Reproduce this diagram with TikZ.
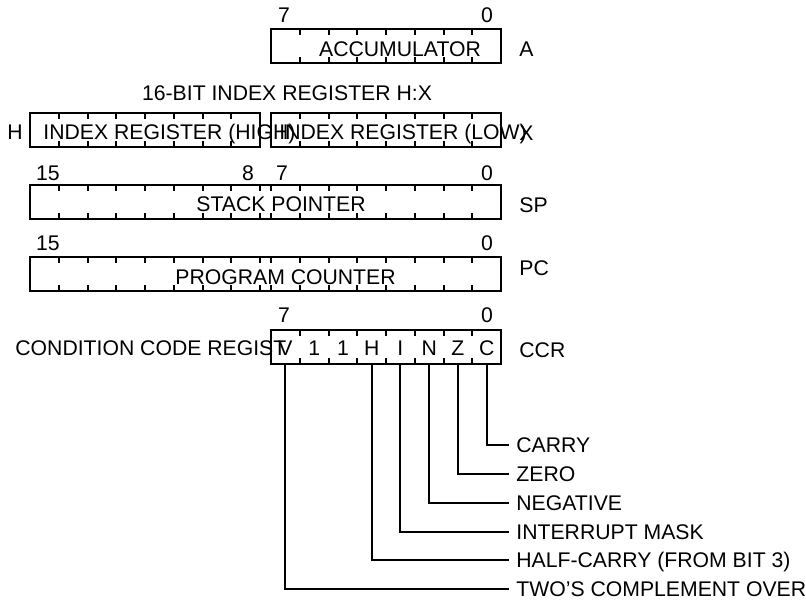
\documentclass[tikz,border=0pt]{standalone}
\usepackage{fontspec}
\setmainfont{Liberation Sans}
\usetikzlibrary{positioning}
\begin{document}
\begin{tikzpicture}[x=0.5pt,y=-0.5pt,every node/.style={inner sep=1pt,text height=7.5pt,text depth=0pt},font=\fontsize{10.6}{12.7}\selectfont]
\tikzstyle{reg}=[draw,line width=1pt,outer sep=0pt,minimum width=115pt,minimum height=17pt]
\tikzstyle{bittick}=[line width=1pt]
\tikzstyle{flag}=[draw,line width=1pt]
\tikzstyle{regname}=[right=8pt of #1,yshift=-1.5pt]
\tikzstyle{flagtxt}=[anchor=west,inner xsep=3.5pt]
\useasboundingbox (0,0) rectangle (806,599);

% registers
\node[reg](acc) at (386,46.5){};
\node[reg](ixh) at (145,130){};
\node[reg](ixl) at (386,130){};
\node[reg,minimum width=235.5pt](sp) at (265.5,201.5){};
\node[reg,minimum width=235.5pt](pc) at (265.5,274){};
\node[reg](ccr) at (386,346.5){};

\foreach \n in {acc,ixh,ixl,ccr}
  \foreach \i in {1,...,7}
    \draw[bittick]([xshift=\i*14.375pt]\n.north west)--+(0,6)
      ([xshift=\i*14.375pt]\n.south west)--+(0,-6);
\foreach \n in {sp,pc}
  \foreach \i in {1,...,8}
    \draw[bittick]([xshift=\i*14.375pt]\n.north west)--+(0,6)
      ([xshift=\i*14.375pt]\n.south west)--+(0,-6)
      ([xshift=-\i*14.375pt]\n.north east)--+(0,6)
      ([xshift=-\i*14.375pt]\n.south east)--+(0,-6);

% texts in the boxes
\node(tacc) at (400,49){ACCUMULATOR};
\node[anchor=west](tixh) at (41,132){INDEX REGISTER (HIGH)};
\node[anchor=west](tixl) at (277,132){INDEX REGISTER (LOW)};
\node(tsp) at (281,203.5){STACK POINTER};
\node(tpc) at (285.5,276.5){PROGRAM COUNTER};

% bit numbers
\node(a7) at (284,15){7};
\node(a0) at (487,15){0};
\node(s15) at (48,173){15};
\node(s8) at (248,173){8};
\node(s7) at (282,173){7};
\node(s0) at (487,173){0};
\node(p15) at (48,243){15};
\node(p0) at (487,243){0};
\node(c7) at (284,315){7};
\node(c0) at (487,315){0};

% names
\node[regname=acc.east](la){A};
\node[regname=ixl.east](lx){X};
\node[regname=sp.east](lsp){SP};
\node[regname=pc.east,yshift=4.5pt](lpc){PC};
\node[regname=ccr.east](lccr){CCR};
\node(lh) at (15,132){H};
\node(lix) at (287,93){16-BIT INDEX REGISTER H:X};
\node[anchor=west](lcc) at (13,348){CONDITION CODE REGIST};

% condition code bits
\foreach \t [count=\i from 0] in {V,1,1,H,I,N,Z,C}
  \node(b\i) at (285.4+\i*28.75,348){\t};

\foreach \i/\t/\y in {7/CARRY/445,6/ZERO/474,5/NEGATIVE/503,4/INTERRUPT MASK/532,3/HALF-CARRY (FROM BIT 3)/560,0/TWO’S COMPLEMENT OVER/589}{
  \node[flagtxt](f\i) at (509,\y){\t};
  \path[flag](b\i|-ccr.south)|-(f\i.west);
}
\end{tikzpicture}
\end{document}
